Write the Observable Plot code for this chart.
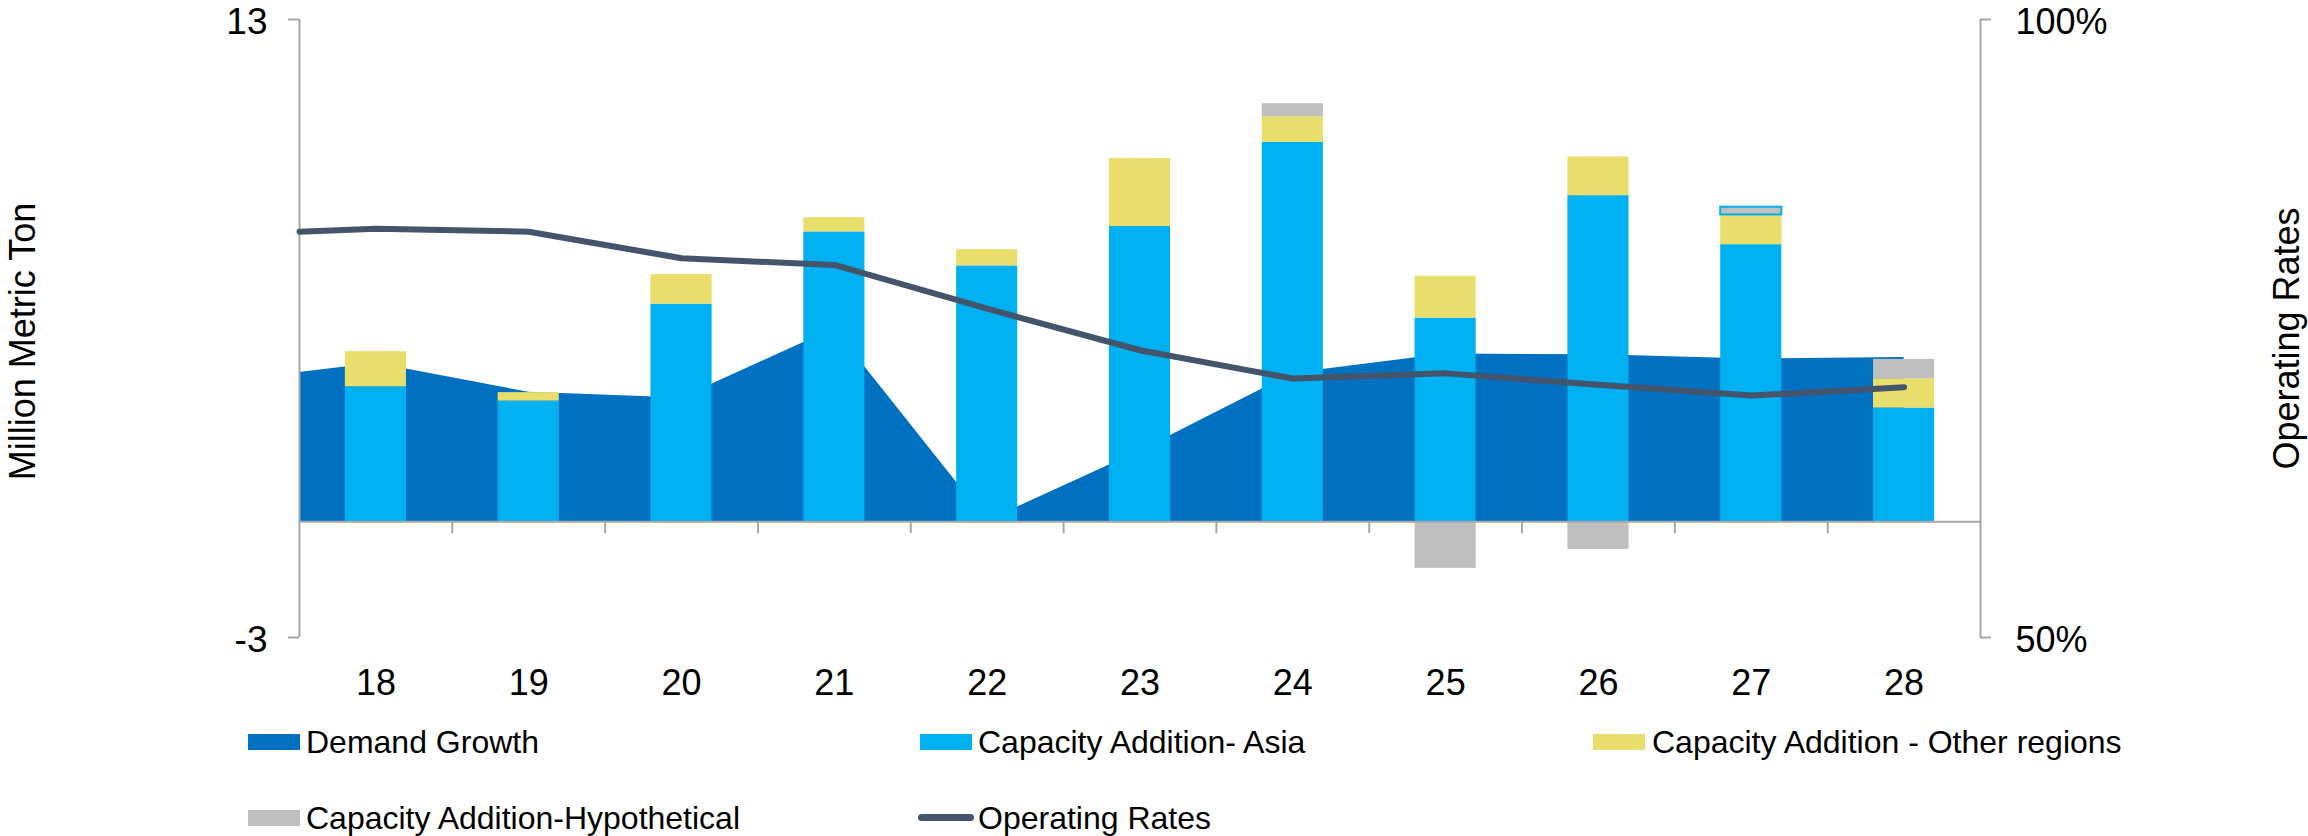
<!DOCTYPE html>
<html>
<head>
<meta charset="utf-8">
<script src="https://cdn.jsdelivr.net/npm/d3@7"></script>
<script src="https://cdn.jsdelivr.net/npm/@observablehq/plot@0.6"></script>
<style>
html, body { margin: 0; padding: 0; background: #fff; }
#wrap { position: relative; width: 2308px; height: 836px; font-family: "Liberation Sans", Arial, sans-serif; overflow: hidden; }
#wrap svg { display: block; }
.lg { position: absolute; font-size: 32px; line-height: 32px; color: #000; white-space: nowrap; }
.sw { position: absolute; }
</style>
</head>
<body>
<div id="wrap"></div>
<script>
// ---- data ----
const years = [18, 19, 20, 21, 22, 23, 24, 25, 26, 27, 28];
const demandGrowth = [4.10, 3.35, 3.20, 5.00, 0.02, 1.83, 3.84, 4.34, 4.32, 4.21, 4.25];
const demandAtAxis = 3.86;          // where the area meets the left axis
const capacityAsia = [3.49, 3.12, 5.63, 7.50, 6.62, 7.64, 9.82, 5.27, 8.44, 7.17, 2.94];
const capacityOther = [0.91, 0.22, 0.77, 0.37, 0.42, 1.76, 0.66, 1.08, 1.00, 0.77, 0.76];
const capacityHypothetical = [0, 0, 0, 0, 0, 0, 0.34, -1.21, -0.72, 0.20, 0.50];
const operatingRates = [83.08, 82.83, 80.68, 80.14, 76.6, 73.24, 70.95, 71.37, 70.45, 69.57, 70.25];
const rateAtAxis = 82.83;           // where the line meets the left axis
const leftDomain = [-3, 13];
const leftTicks = [-3, 13];
const rightDomain = [50, 100];
const rightTicks = [50, 100];
const seriesNames = ["Demand Growth", "Capacity Addition- Asia", "Capacity Addition - Other regions", "Capacity Addition-Hypothetical", "Operating Rates"];
const seriesColors = ["#0070C0", "#00B0F0", "#E9DD6C", "#BFBFBF", "#44546A"];
const leftTitle = "Million Metric Ton";
const rightTitle = "Operating Rates";

// ---- derived tables ----
const xDomain = [years[0] - 0.5, years[years.length - 1] + 0.5];
const toLeft = r => leftDomain[0] + (r - rightDomain[0]) / (rightDomain[1] - rightDomain[0]) * (leftDomain[1] - leftDomain[0]);
const fromLeft = v => rightDomain[0] + (v - leftDomain[0]) / (leftDomain[1] - leftDomain[0]) * (rightDomain[1] - rightDomain[0]);

const demandPts = [{x: xDomain[0], v: demandAtAxis}, ...years.map((y, i) => ({x: y, v: demandGrowth[i]}))];
const ratePts = [{x: xDomain[0], r: rateAtAxis}, ...years.map((y, i) => ({x: y, r: operatingRates[i]}))];
const barSeries = [seriesNames[1], seriesNames[2], seriesNames[3]];
const stackData = [];
years.forEach((y, i) => {
  stackData.push({year: y, series: barSeries[0], value: capacityAsia[i]});
  stackData.push({year: y, series: barSeries[1], value: capacityOther[i]});
  stackData.push({year: y, series: barSeries[2], value: capacityHypothetical[i]});
});
const boundaries = years.slice(1).map(y => y - 0.5);
const halfBar = 0.2;

const barOpts = () => Plot.stackY({
  x: "year", y: "value",
  x1: d => d.year - halfBar, x2: d => d.year + halfBar,
  fill: "series"
});
// outlined hypothetical segment of year 27 (stacked on the full data, then filtered)
const outlineOpts = (() => {
  const s = barOpts();
  const t = s.transform;
  s.transform = (data, facets) => {
    const r = t(data, facets);
    return {data: r.data, facets: r.facets.map(f => Array.from(f).filter(i => r.data[i].year === 27 && r.data[i].series === barSeries[2]))};
  };
  return s;
})();

const axisGray = "#A6A6A6";
const chart = Plot.plot({
  width: 2308,
  height: 710,
  marginLeft: 299,
  marginRight: 328,
  marginTop: 19,
  marginBottom: 73,
  style: {fontFamily: "'Liberation Sans', Arial, sans-serif", background: "#fff", color: "#000"},
  x: {type: "linear", domain: xDomain, axis: null},
  y: {domain: leftDomain, axis: null},
  color: {domain: seriesNames, range: seriesColors},
  marks: [
    Plot.areaY(demandPts, {x: "x", y: "v", fill: seriesColors[0]}),
    Plot.rect(stackData, barOpts()),
    Plot.rect(stackData, {...outlineOpts, stroke: seriesColors[1], strokeWidth: 2}),
    Plot.ruleY([0], {x1: xDomain[0], x2: xDomain[1], stroke: axisGray, strokeWidth: 2}),
    Plot.ruleX(boundaries, {y1: 0, y2: 0, insetBottom: -12, stroke: axisGray, strokeWidth: 2}),
    Plot.ruleX([xDomain[0], xDomain[1]], {y1: leftDomain[0], y2: leftDomain[1], stroke: axisGray, strokeWidth: 2}),
    // tick marks of the two value axes
    Plot.ruleY(leftTicks, {x1: xDomain[0], x2: xDomain[0], insetLeft: -11, stroke: axisGray, strokeWidth: 2}),
    Plot.ruleY(rightTicks.map(toLeft), {x1: xDomain[1], x2: xDomain[1], insetRight: -11, stroke: axisGray, strokeWidth: 2}),
    Plot.line(ratePts, {x: "x", y: d => toLeft(d.r), stroke: seriesColors[4], strokeWidth: 6, strokeLinecap: "round", strokeLinejoin: "round"}),
    Plot.axisY({anchor: "left", ticks: leftTicks, tickFormat: d => String(d), tickSize: 0, tickPadding: 32, dy: 3, fontSize: 37, fill: "#000", label: null}),
    Plot.axisY({anchor: "right", ticks: rightTicks.map(toLeft), tickFormat: v => Math.round(fromLeft(v)) + "%", tickSize: 0, tickPadding: 35, dy: 3, fontSize: 36, fill: "#000", label: null}),
    Plot.axisX({anchor: "bottom", ticks: years, tickFormat: d => String(d), tickSize: 0, tickPadding: 32, fontSize: 36, fill: "#000", label: null}),
    Plot.text([leftTitle], {text: d => d, frameAnchor: "left", textAnchor: "middle", dx: -276, dy: 13, rotate: -90, fontSize: 36, lineAnchor: "middle", fill: "#000"}),
    Plot.text([rightTitle], {text: d => d, frameAnchor: "right", textAnchor: "middle", dx: 307, dy: 10, rotate: -90, fontSize: 36, lineAnchor: "middle", fill: "#000"})
  ]
});

const wrap = document.getElementById("wrap");
wrap.appendChild(chart);

// ---- legend (HTML, below the SVG) ----
const legendItems = [
  {name: seriesNames[0], color: seriesColors[0], sx: 248, tx: 306, row: 0, kind: "box"},
  {name: seriesNames[1], color: seriesColors[1], sx: 920, tx: 978, row: 0, kind: "box"},
  {name: seriesNames[2], color: seriesColors[2], sx: 1593, tx: 1652, row: 0, kind: "box"},
  {name: seriesNames[3], color: seriesColors[3], sx: 248, tx: 306, row: 1, kind: "box"},
  {name: seriesNames[4], color: seriesColors[4], sx: 918, tx: 978, row: 1, kind: "line"}
];
const rowTop = [734, 810];
legendItems.forEach(it => {
  const sw = document.createElement("div");
  sw.className = "sw";
  if (it.kind === "box") {
    Object.assign(sw.style, {left: it.sx + "px", top: rowTop[it.row] + "px", width: "52px", height: "16px", background: it.color});
  } else {
    Object.assign(sw.style, {left: it.sx + "px", top: (rowTop[it.row] + 4) + "px", width: "56px", height: "7px", borderRadius: "3.5px", background: it.color});
  }
  wrap.appendChild(sw);
  const t = document.createElement("div");
  t.className = "lg";
  t.textContent = it.name;
  Object.assign(t.style, {left: it.tx + "px", top: (rowTop[it.row] - 8) + "px"});
  wrap.appendChild(t);
});
</script>
</body>
</html>
